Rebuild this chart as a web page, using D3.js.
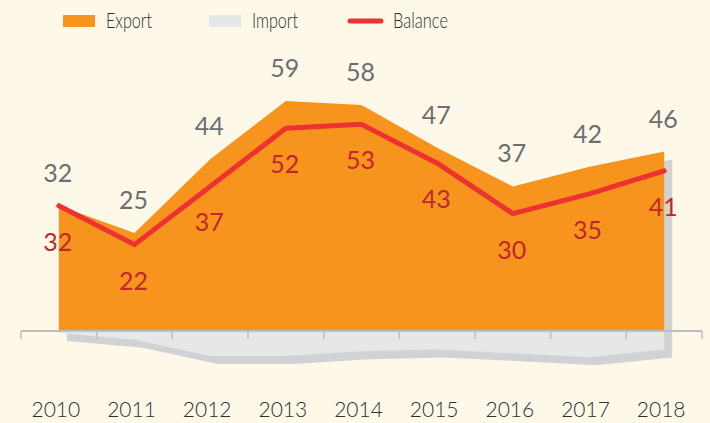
<!DOCTYPE html>
<html>
<head>
<meta charset="utf-8">
<script src="https://cdn.jsdelivr.net/npm/d3@7"></script>
<style>
  html, body { margin: 0; padding: 0; background: #fdf8e8; }
  svg { display: block; }
  text { font-family: Lato, "Open Sans", sans-serif; }
</style>
</head>
<body>
<svg id="chart" width="710" height="423"></svg>
<script>
const years = ["2010","2011","2012","2013","2014","2015","2016","2017","2018"];
const exportVals = [32, 25, 44, 59, 58, 47, 37, 42, 46];
const balanceVals = [32, 22, 37, 52, 53, 43, 30, 35, 41];
const importVals = [0.8, 2.5, 6.7, 6.7, 5.5, 5, 6, 7, 5];
const legendLabels = ["Export", "Import", "Balance"];

const W = 710, H = 423;
const svg = d3.select("#chart");

const x = d3.scalePoint().domain(years).range([21, 702]).padding(0.5);
const y = d3.scaleLinear().domain([0, 60]).range([330, 97.2]);
const step = x.step();

const data = years.map((yr, i) => ({ yr, ex: exportVals[i], bal: balanceVals[i], im: importVals[i] }));

// shadow: union of export + import areas, offset
const shadowArea = d3.area().x(d => x(d.yr)).y0(d => y(-d.im)).y1(d => y(d.ex));
svg.append("path")
  .attr("d", shadowArea(data))
  .attr("transform", "translate(8,8)")
  .attr("fill", "#d1d2d4");

// import area
const importArea = d3.area().x(d => x(d.yr)).y0(y(0)).y1(d => y(-d.im));
svg.append("path").attr("d", importArea(data)).attr("fill", "#e6e7e8");

// export area
const exportArea = d3.area().x(d => x(d.yr)).y0(y(0)).y1(d => y(d.ex));
svg.append("path").attr("d", exportArea(data)).attr("fill", "#f7941d");

// axis
const axisY = y(0) + 1;
svg.append("line")
  .attr("x1", 21).attr("x2", 702).attr("y1", axisY).attr("y2", axisY)
  .attr("stroke", "#bcbec0").attr("stroke-width", 2);
const tickXs = d3.range(years.length + 1).map(i => 21 + i * step);
svg.selectAll(".tick").data(tickXs).enter().append("line")
  .attr("x1", d => d).attr("x2", d => d)
  .attr("y1", axisY).attr("y2", axisY + 8)
  .attr("stroke", "#bcbec0").attr("stroke-width", 1.5);

// balance line
const line = d3.line().x(d => x(d.yr)).y(d => y(d.bal));
svg.append("path").attr("d", line(data))
  .attr("fill", "none").attr("stroke", "#ee3131")
  .attr("stroke-width", 5).attr("stroke-linecap", "round").attr("stroke-linejoin", "round");

// export labels
svg.selectAll(".exl").data(data).enter().append("text")
  .attr("x", d => x(d.yr) - 1).attr("y", d => y(d.ex) - 24)
  .attr("text-anchor", "middle").attr("font-size", 25)
  .attr("fill", "#6d6e71").text(d => d.ex);

// balance labels
svg.selectAll(".bl").data(data).enter().append("text")
  .attr("x", d => x(d.yr) - 1).attr("y", d => y(d.bal) + 45)
  .attr("text-anchor", "middle").attr("font-size", 25)
  .attr("fill", "#c1272d").text(d => d.bal);

// year labels
svg.selectAll(".yl").data(years).enter().append("text")
  .attr("x", d => x(d) - 3).attr("y", 417)
  .attr("text-anchor", "middle").attr("font-size", 21).attr("font-weight", 300)
  .attr("fill", "#2f2f2f").text(d => d);

// legend
const lg = svg.append("g");
lg.append("rect").attr("x", 63).attr("y", 15).attr("width", 32).attr("height", 12).attr("fill", "#f7941d");
lg.append("rect").attr("x", 209).attr("y", 15).attr("width", 32).attr("height", 12).attr("fill", "#e6e7e8");
lg.append("line").attr("x1", 350).attr("x2", 381).attr("y1", 21).attr("y2", 21)
  .attr("stroke", "#ee3131").attr("stroke-width", 5).attr("stroke-linecap", "round");
const legX = [106, 252, 393];
const legW = [46, 46, 55];
legendLabels.forEach((t, i) => {
  lg.append("text").attr("x", legX[i]).attr("y", 28)
    .attr("font-size", 22).attr("font-weight", 300).attr("fill", "#2f2f2f")
    .attr("textLength", legW[i]).attr("lengthAdjust", "spacingAndGlyphs")
    .text(t);
});
</script>
</body>
</html>
